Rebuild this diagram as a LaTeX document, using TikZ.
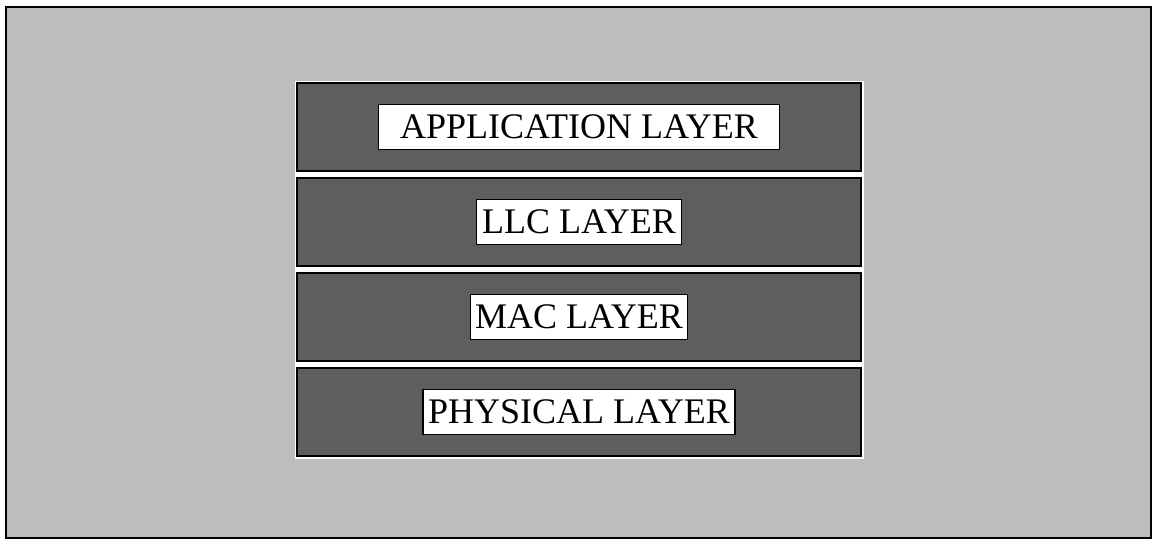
\documentclass[tikz,border=0pt]{standalone}
\usepackage{fontspec}
\setmainfont{Liberation Serif}
\usetikzlibrary{positioning}
\definecolor{paperbg}{gray}{0.74}
\definecolor{layerfill}{gray}{0.37}
\tikzset{
  frame/.style={draw=black, line width=2pt, fill=paperbg},
  layerbox/.style={draw=black, line width=2pt, fill=layerfill,
              minimum width=564pt, minimum height=88pt, inner sep=0pt},
  lbl/.style={draw=black, line width=1.2pt, fill=white, inner xsep=5pt, inner ysep=0pt,
              minimum height=45pt, font=\fontsize{36}{36}\selectfont},
}

\begin{document}
\begin{tikzpicture}[x=1pt, y=-1pt]
        \useasboundingbox (0,0) rectangle (1155,544);
        \draw[frame] (6,7) rectangle (1151,538);
        \fill[white] (295,81) rectangle (864,459);
        % protocol stack
        \node[layerbox] (app) at (579,127) {};
        \node[layerbox, below=5pt of app] (llc) {};
        \node[layerbox, below=5pt of llc] (mac) {};
        \node[layerbox, below=5pt of mac] (phy) {};
        \node[lbl, minimum width=401pt] (applbl) at (app.center) {APPLICATION LAYER};
        \node[lbl, minimum width=205pt] (llclbl) at (llc.center) {LLC LAYER};
        \node[lbl, minimum width=205pt] (maclbl) at (mac.center) {MAC LAYER};
        \node[lbl, minimum width=312pt] (phylbl) at (phy.center) {PHYSICAL LAYER};
      \end{tikzpicture}
\end{document}
